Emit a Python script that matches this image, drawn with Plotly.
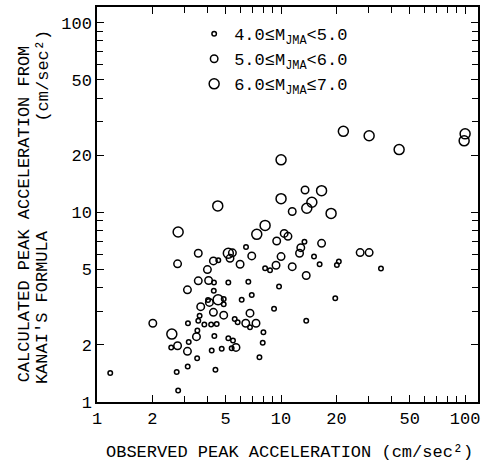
import plotly.graph_objects as go

# 4.0 <= M < 5.0
small_x = [34.9, 20.6, 20.1, 16.2, 15.1, 13.4, 19.7, 13.7, 9.16, 9.75, 8.71, 8.19, 6.45, 6.64, 6.93,
           6.11, 5.17, 4.56, 4.32, 4.31, 4.88, 4.88, 4.01, 3.61, 3.55, 3.83, 4.17, 4.47, 3.51, 4.34,
           5.60, 5.81, 6.78, 8.02, 7.95, 7.63, 5.17, 5.48, 5.39, 4.76, 4.20, 3.50, 3.15, 3.12, 2.53,
           2.71, 3.11, 4.40, 2.76, 1.18]
small_y = [5.05, 5.50, 5.28, 5.32, 5.84, 7.00, 3.52, 2.68, 3.10, 4.06, 4.95, 5.07, 6.56, 4.30, 3.66,
           3.46, 4.27, 5.59, 4.27, 3.86, 3.49, 3.28, 3.45, 2.85, 2.68, 2.56, 2.56, 2.58, 2.38, 2.23,
           2.74, 2.63, 2.48, 2.33, 2.05, 1.72, 2.17, 2.11, 1.92, 1.91, 1.87, 1.70, 2.07, 2.60, 1.94,
           1.44, 1.54, 1.48, 1.15, 1.42]

# 5.0 <= M < 6.0
medium_x = [13.5, 11.5, 9.47, 10.4, 10.9, 16.6, 12.8, 12.6, 10.0, 6.93, 5.44, 5.28, 26.9, 30.1, 9.39,
            11.5, 13.7, 5.99, 3.55, 3.98, 2.74, 3.55, 4.04, 4.29, 3.10, 3.66, 4.08, 4.29, 4.88, 6.78,
            6.43, 7.31, 2.01, 3.47, 2.74, 3.10, 5.69]
medium_y = [13.1, 10.1, 7.06, 7.74, 7.47, 6.86, 6.51, 6.08, 5.84, 5.89, 6.11, 5.72, 6.13, 6.13, 5.26,
            5.17, 4.64, 5.32, 6.08, 4.99, 5.35, 4.35, 4.37, 5.54, 3.90, 3.18, 3.35, 2.97, 2.87, 2.94,
            2.60, 2.60, 2.60, 2.21, 1.98, 1.85, 1.94]

# 6.0 <= M <= 7.0
large_x = [21.8, 30.1, 43.8, 100, 98.8, 10.0, 4.53, 10.0, 2.76, 8.19, 7.38, 13.8, 14.7, 16.6, 18.7,
           5.17, 4.55, 2.55]
large_y = [26.7, 25.3, 21.4, 25.9, 23.8, 18.9, 10.8, 11.8, 7.87, 8.53, 7.65, 10.5, 11.3, 13.0, 9.86,
           6.08, 3.46, 2.28]

series_names = ["4.0≤M<sub>JMA</sub><5.0", "5.0≤M<sub>JMA</sub><6.0", "6.0≤M<sub>JMA</sub>≤7.0"]

major_ticks = [1, 2, 5, 10, 20, 50, 100]
major_text = ["1", "2", "5", "10", "20", "50", "100"]
minor_ticks = [m * d for d in (1, 10, 100) for m in (3, 4, 6, 7, 8, 9)]

FONT = "Liberation Mono, DejaVu Sans Mono, monospace"

fig = go.Figure()
for xs, ys, name, sz in [(small_x, small_y, series_names[0], 4.5),
                         (medium_x, medium_y, series_names[1], 7.5),
                         (large_x, large_y, series_names[2], 10)]:
    fig.add_trace(go.Scatter(
        x=xs, y=ys, mode="markers", name=name,
        marker=dict(symbol="circle-open", size=sz, color="black", line=dict(width=1.5)),
    ))

axis_common = dict(
    type="log", showgrid=False, zeroline=False,
    showline=True, linecolor="black", linewidth=1.5, mirror="allticks",
    ticks="inside", ticklen=7, tickwidth=1.2, tickcolor="black",
    tickvals=major_ticks, ticktext=major_text,
    minor=dict(tickvals=minor_ticks, ticks="inside", ticklen=6, tickwidth=1.2,
               tickcolor="black", showgrid=False),
    tickfont=dict(family=FONT, size=17, color="black"),
)

fig.update_xaxes(range=[0, 2.07], **axis_common)
fig.update_yaxes(range=[0, 2.082], **axis_common)

fig.update_layout(
    width=485, height=470,
    margin=dict(l=97, r=5, t=5, b=68),
    paper_bgcolor="white", plot_bgcolor="white",
    font=dict(family=FONT, size=17, color="black"),
    showlegend=True,
    legend=dict(x=0.255, y=0.977, xanchor="left", yanchor="top",
                bgcolor="rgba(0,0,0,0)", borderwidth=0,
                font=dict(family=FONT, size=17, color="black"),
                itemwidth=30, tracegroupgap=0),
    annotations=[
        dict(text="OBSERVED PEAK ACCELERATION (cm/sec²)", xref="paper", yref="paper",
             x=0.505, y=-0.128, xanchor="center", yanchor="middle", showarrow=False,
             font=dict(family=FONT, size=17)),
        dict(text="CALCULATED PEAK ACCELERATION FROM", xref="paper", yref="paper",
             x=-0.188, y=0.476, xanchor="center", yanchor="middle", textangle=-90,
             showarrow=False, font=dict(family=FONT, size=17)),
        dict(text="KANAI'S FORMULA", xref="paper", yref="paper",
             x=-0.141, y=0.241, xanchor="center", yanchor="middle", textangle=-90,
             showarrow=False, font=dict(family=FONT, size=17)),
        dict(text="(cm/sec²)", xref="paper", yref="paper",
             x=-0.141, y=0.827, xanchor="center", yanchor="middle", textangle=-90,
             showarrow=False, font=dict(family=FONT, size=17)),
    ],
)

fig.write_html("out.html", config={"displayModeBar": False},
               post_script="document.body.style.margin='0';")
